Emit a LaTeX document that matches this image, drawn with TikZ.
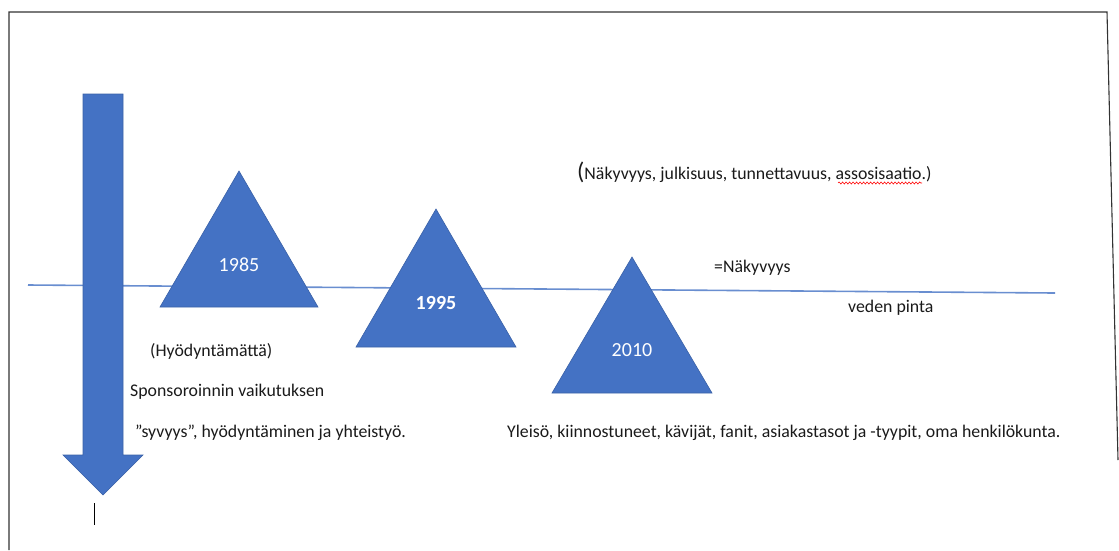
\documentclass[tikz,border=0pt]{standalone}
\usepackage{fontspec}
\setmainfont{Carlito}
\usetikzlibrary{decorations.pathmorphing}
\definecolor{offblue}{HTML}{4472C4}
\definecolor{txt}{HTML}{1A1A1A}
\tikzset{
  shapeblue/.style={fill=offblue, draw=offblue!85!black, line width=0.6pt, line join=miter},
  yearlbl/.style={text=white, font=\fontsize{20}{22}\selectfont, inner sep=0pt},
  bodytxt/.style={text=txt, font=\fontsize{17.8}{20}\selectfont, inner sep=0pt},
  frameline/.style={draw=black!80, line width=1.1pt},
}
\begin{document}
\begin{tikzpicture}[x=1pt,y=-1pt]
\useasboundingbox (0,0) rectangle (1119,550);
% frame
\draw[frameline] (9,550) -- (9,12) -- (1107,12) -- (1118,460);
% water surface
\coordinate (wl) at (28,285);
\coordinate (wr) at (1055,293);
\draw[offblue!80, line width=1.6pt] (wl) -- (wr);
% big arrow
\path[shapeblue] (83,94) -- (123,94) -- (123,455) -- (143,455) -- (103,495) -- (63,455) -- (83,455) -- cycle;
% cursor
\draw[black, line width=1pt] (94,503) -- (94,525);
% triangles
\path[shapeblue] (239,171) -- (318,307) -- (160,307) -- cycle;
\path[shapeblue] (436,209) -- (516,347) -- (356,347) -- cycle;
\path[shapeblue] (632,257) -- (712,393) -- (552,393) -- cycle;
\node[yearlbl] (y1985) at (239,265) {1985};
\node[yearlbl, font=\fontsize{20}{22}\selectfont\bfseries] (y1995) at (436,303) {1995};
\node[yearlbl] (y2010) at (632,350) {2010};
% texts
\node[bodytxt, anchor=west] (hyod) at (150,351) {(Hyödyntämättä)};
\node[bodytxt, anchor=west] (spons) at (130,392) {Sponsoroinnin vaikutuksen};
\node[bodytxt, anchor=west] (syv) at (135,433) {”syvyys”, hyödyntäminen ja yhteistyö.};
\node[bodytxt, anchor=west] (nak) at (577,172) {{\fontsize{24}{24}\selectfont(}Näkyvyys, julkisuus, tunnettavuus, assosisaatio.)};
\draw[red, line width=0.6pt, decorate, decoration={snake, segment length=3.5pt, amplitude=1pt}] (838,183) -- (922,183);
\node[bodytxt, anchor=west] (nak2) at (714,268) {=Näkyvyys};
\node[bodytxt, anchor=west] (veden) at (848,308) {veden pinta};
\node[bodytxt, anchor=west] (yleiso) at (507,433) {Yleisö, kiinnostuneet, kävijät, fanit, asiakastasot ja -tyypit, oma henkilökunta.};
\end{tikzpicture}
\end{document}
